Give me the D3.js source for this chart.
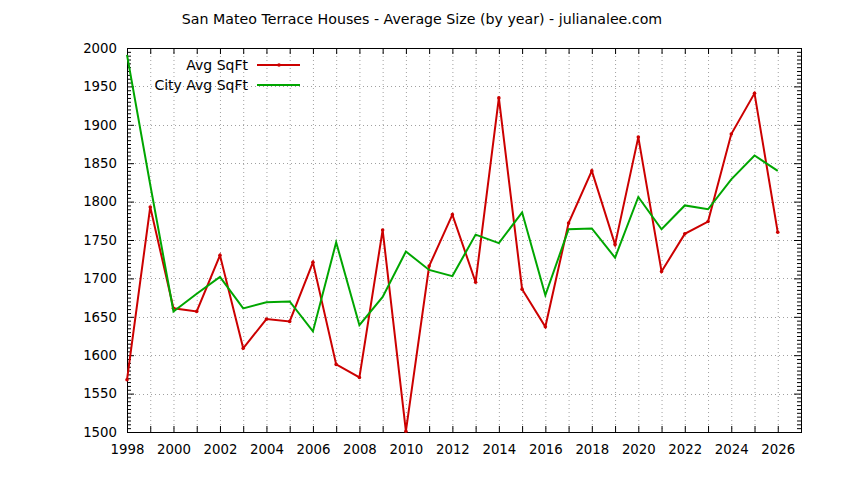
<!DOCTYPE html>
<html><head><meta charset="utf-8">
<script src="https://cdn.jsdelivr.net/npm/d3@7"></script>
<style>body{margin:0;background:#fff}svg{display:block}text{font-family:"DejaVu Sans",sans-serif;fill:#000}</style>
</head><body>
<svg id="c" width="844" height="480"></svg>
<script>
const title = "San Mateo Terrace Houses - Average Size (by year) - julianalee.com";
const years = [1998,1999,2000,2001,2002,2003,2004,2005,2006,2007,2008,2009,2010,2011,2012,2013,2014,2015,2016,2017,2018,2019,2020,2021,2022,2023,2024,2025,2026];
const avgSqFt = [1568,1793,1661,1657,1730,1609,1647,1644,1721,1588,1571,1763,1501,1716,1783,1695,1935,1686,1637,1772,1840,1744,1884,1709,1758,1774,1888,1941,1760];
const cityAvgSqFt = [1991,1822,1657,1680,1702,1661,1669,1670,1631,1747,1639,1676,1735,1711,1703,1757,1746,1786,1678,1764,1765,1727,1806,1764,1795,1790,1829,1860,1840];
const seriesNames = ["Avg SqFt","City Avg SqFt"];
const xTickLabels = [1998,2000,2002,2004,2006,2008,2010,2012,2014,2016,2018,2020,2022,2024,2026];
const yTickLabels = [1500,1550,1600,1650,1700,1750,1800,1850,1900,1950,2000];

const svg = d3.select("#c");
const L=127, R=801, T=48, B=432;
const x = d3.scaleLinear().domain([1998,2027]).range([L,R]);
const y = d3.scaleLinear().domain([1500,2000]).range([B,T]);
const red="#cc0000", green="#00a600";

svg.append("text").attr("x",422).attr("y",24).attr("text-anchor","middle").attr("font-size",14.2).text(title);

// grid
const grid = svg.append("g").attr("stroke","#a0a0a0").attr("stroke-width",1).attr("stroke-dasharray","1,3");
d3.range(1999,2027).forEach(v=>grid.append("line").attr("x1",x(v)+.5).attr("x2",x(v)+.5).attr("y1",T).attr("y2",B));
yTickLabels.slice(1,-1).forEach(v=>grid.append("line").attr("x1",L).attr("x2",R).attr("y1",Math.round(y(v))+.5).attr("y2",Math.round(y(v))+.5));

// axes
const allYears = d3.range(1998,2028);
const xb = svg.append("g").attr("transform",`translate(0,${B})`)
  .call(d3.axisBottom(x).tickValues(allYears).tickSize(-6).tickPadding(13).tickFormat(d=>xTickLabels.includes(d)?d:""));
const xt = svg.append("g").attr("transform",`translate(0,${T})`)
  .call(d3.axisTop(x).tickValues(allYears).tickSize(-6).tickFormat(""));
const minorY = d3.range(1500,2001,5);
const yl = svg.append("g").attr("transform",`translate(${L},0)`)
  .call(d3.axisLeft(y).tickValues(yTickLabels).tickSize(-7).tickPadding(10).tickFormat(d3.format("d")));
const ylm = svg.append("g").attr("transform",`translate(${L},0)`)
  .call(d3.axisLeft(y).tickValues(minorY.filter(v=>v%50)).tickSize(-4).tickFormat(""));
const yr = svg.append("g").attr("transform",`translate(${R},0)`)
  .call(d3.axisRight(y).tickValues(yTickLabels).tickSize(-7).tickFormat(""));
const yrm = svg.append("g").attr("transform",`translate(${R},0)`)
  .call(d3.axisRight(y).tickValues(minorY.filter(v=>v%50)).tickSize(-4).tickFormat(""));
[xb,xt,yl,ylm,yr,yrm].forEach(g=>{g.select(".domain").remove();g.selectAll("line").attr("stroke","#000");g.selectAll("text").attr("font-size",13.3).attr("font-family","DejaVu Sans");});
svg.append("rect").attr("x",L+.5).attr("y",T+.5).attr("width",R-L).attr("height",B-T).attr("fill","none").attr("stroke","#000").attr("stroke-width",1);

// lines
const line = d3.line().x((d,i)=>x(years[i])).y(d=>y(d));
svg.append("path").datum(avgSqFt).attr("d",line).attr("fill","none").attr("stroke",red).attr("stroke-width",2);
svg.append("g").selectAll("circle").data(avgSqFt).join("circle").attr("cx",(d,i)=>x(years[i])).attr("cy",d=>y(d)).attr("r",1.8).attr("fill",red);
svg.append("path").datum(cityAvgSqFt).attr("d",line).attr("fill","none").attr("stroke",green).attr("stroke-width",2);

// legend
const lg = svg.append("g");
[[seriesNames[0],red,65,true],[seriesNames[1],green,85,false]].forEach(([n,c,yy,pt])=>{
  lg.append("text").attr("x",248).attr("y",yy+5).attr("text-anchor","end").attr("font-size",14).text(n);
  lg.append("line").attr("x1",257).attr("x2",300).attr("y1",yy).attr("y2",yy).attr("stroke",c).attr("stroke-width",2);
  if(pt) lg.append("circle").attr("cx",279).attr("cy",yy).attr("r",1.8).attr("fill",c);
});
</script>
</body></html>
